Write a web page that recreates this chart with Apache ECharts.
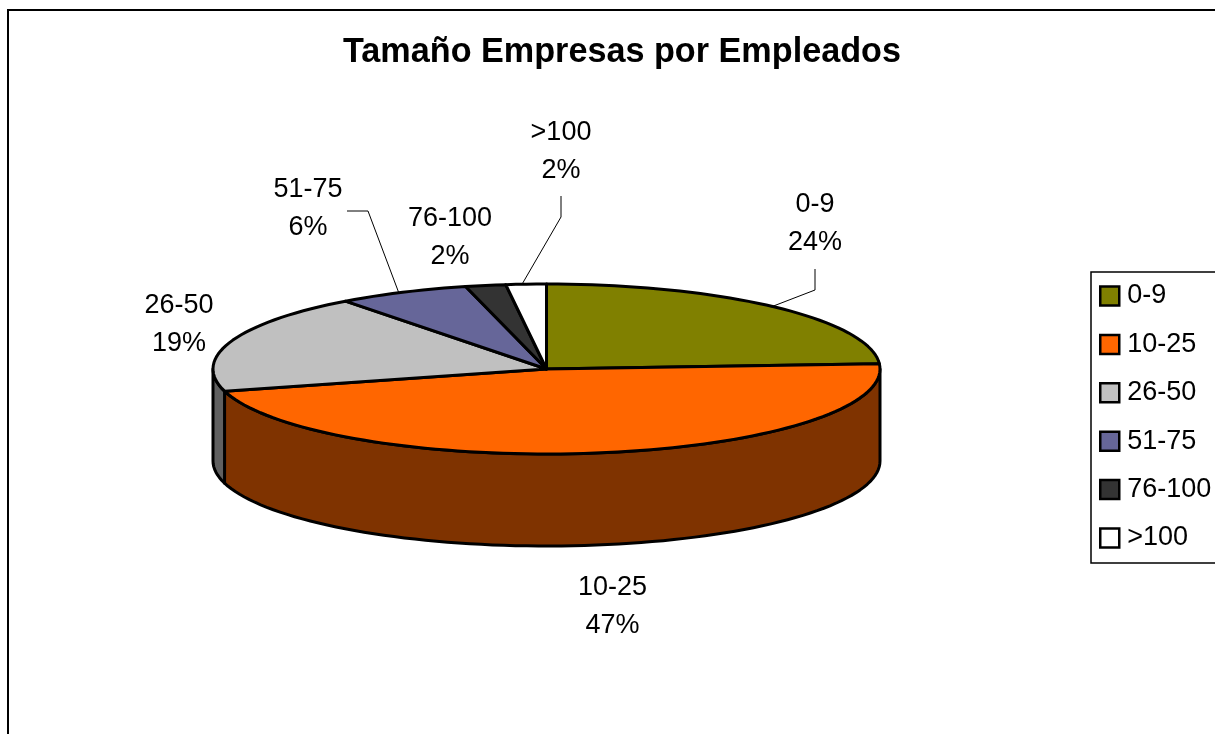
<!DOCTYPE html>
<html>
<head>
<meta charset="utf-8">
<style>html,body{margin:0;padding:0;background:#fff;overflow:hidden}#c{width:1215px;height:734px}</style>
<script src="https://cdn.jsdelivr.net/npm/echarts@6/dist/echarts.min.js"></script>
</head>
<body>
<div id="c"></div>
<script>
const titleText = 'Tamaño Empresas por Empleados';
const categories = ['0-9', '10-25', '26-50', '51-75', '76-100', '>100'];
const values = [24, 46.8, 18.9, 6.4, 1.95, 1.95];
const colors = ['#808000', '#FF6600', '#C0C0C0', '#666699', '#333333', '#FFFFFF'];

// Layout of the tilted pie
const CX = 546.5, CY = 369, RX = 333.5, RY = 85, DEPTH = 92, LEADER_SHIFT = -4;
const FONT = '27px "Liberation Sans", Arial, sans-serif';
// Label block centres and optional leader elbows
const labelLayout = [
  { x: 815, y: 224, elbow: [[815, 269], [815, 290]] },
  { x: 612.5, y: 607 },
  { x: 179, y: 325 },
  { x: 308, y: 209, elbow: [[347, 211], [368, 211]] },
  { x: 450, y: 238 },
  { x: 561, y: 152, elbow: [[561, 196], [561, 217]] }
];

const total = values.reduce((a, b) => a + b, 0);
const starts = [];
values.reduce((acc, v, i) => { starts[i] = acc; return acc + v; }, 0);

const rad = d => d * Math.PI / 180;
const pt = (deg, dy) => [CX + RX * Math.sin(rad(deg)), CY - RY * Math.cos(rad(deg)) + (dy || 0)];
function arc(a, b, dy) {
  const n = Math.max(2, Math.ceil((b - a) / 2));
  const out = [];
  for (let k = 0; k <= n; k++) out.push(pt(a + (b - a) * k / n, dy));
  return out;
}
function darken(hex) {
  const c = echarts.color.parse(hex);
  return echarts.color.stringify([c[0] >> 1, c[1] >> 1, c[2] >> 1, 1], 'rgb');
}
const stroke = { stroke: '#000', lineWidth: 3, lineJoin: 'round' };

function makeRender(i) {
  return function (params, api) {
    const value = api.value(0);
    const a = starts[i] / total * 360;
    const b = a + value / total * 360;
    const children = [];
    // Rim: only the front half of the disc is visible
    const sa = Math.max(a, 90), sb = Math.min(b, 270);
    if (sb > sa) {
      const pts = arc(sa, sb, 0).concat(arc(sa, sb, DEPTH).reverse());
      children.push({ type: 'polygon', shape: { points: pts },
        style: Object.assign({ fill: darken(colors[i]) }, stroke) });
    }
    // Top face
    const top = [[CX, CY]].concat(arc(a, b, 0));
    children.push({ type: 'polygon', shape: { points: top },
      style: Object.assign({ fill: colors[i] }, stroke) });
    // Label and leader line
    const lay = labelLayout[i];
    if (lay.elbow) {
      const end = pt((a + b) / 2, 0);
      end[0] += LEADER_SHIFT;
      children.push({ type: 'polyline', shape: { points: lay.elbow.concat([end]) },
        style: { stroke: '#000', lineWidth: 1, fill: null } });
    }
    children.push({ type: 'text', style: {
      x: lay.x, y: lay.y, text: categories[i] + '\n' + Math.round(value / total * 100) + '%',
      font: FONT, lineHeight: 38, fill: '#000', textAlign: 'center', textVerticalAlign: 'middle'
    } });
    return { type: 'group', children };
  };
}

const chart = echarts.init(document.getElementById('c'), null, { renderer: 'canvas' });
chart.setOption({
  animation: false,
  backgroundColor: '#fff',
  title: {
    text: titleText, left: 343, top: 36, padding: 0,
    textStyle: { fontFamily: '"Liberation Sans", Arial, sans-serif', fontWeight: 'bold', fontSize: 34.2, color: '#000' }
  },
  legend: {
    orient: 'vertical', left: 1091, top: 272, selectedMode: false,
    padding: [10, 30, 11, 8],
    itemWidth: 19, itemHeight: 19, itemGap: 20.4,
    backgroundColor: '#fff', borderColor: '#000', borderWidth: 1.5,
    textStyle: { fontFamily: '"Liberation Sans", Arial, sans-serif', fontSize: 27, color: '#000', lineHeight: 24, padding: [0, 0, 4, 3] },
    data: categories.map((name, i) => ({
      name, icon: 'rect',
      itemStyle: { color: colors[i], borderColor: '#000', borderWidth: 2.5 }
    }))
  },
  graphic: [{
    type: 'rect', silent: true, z: -1,
    shape: { x: 8, y: 10, width: 1400, height: 900 },
    style: { fill: null, stroke: '#000', lineWidth: 2 }
  }],
  series: categories.map((name, i) => ({
    type: 'custom', name, coordinateSystem: 'none',
    itemStyle: { color: colors[i] },
    renderItem: makeRender(i),
    encode: { value: 0 },
    data: [[values[i]]]
  }))
});
</script>
</body>
</html>
